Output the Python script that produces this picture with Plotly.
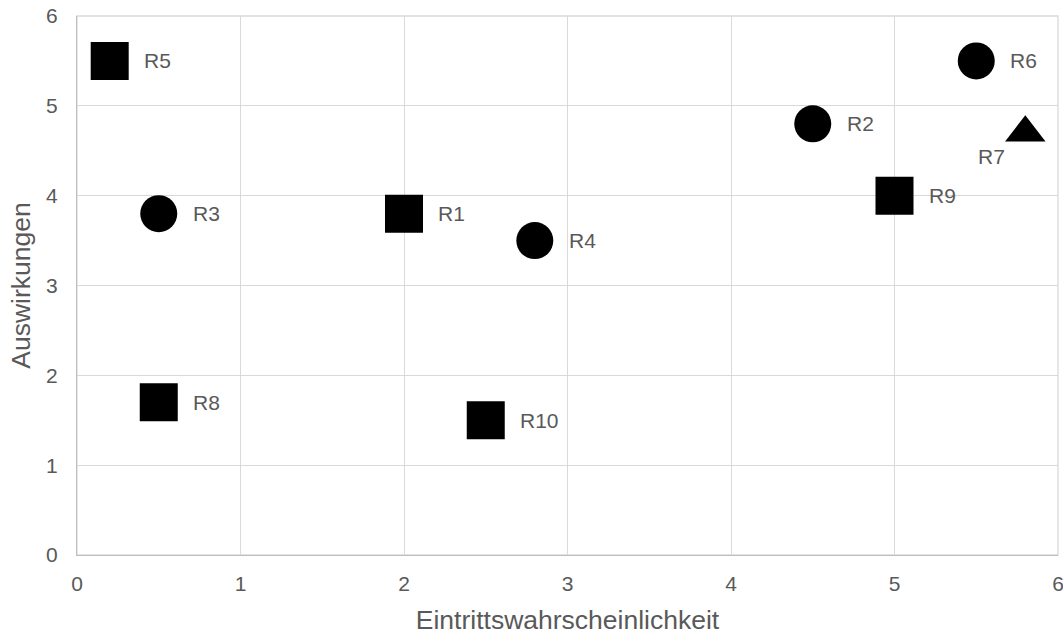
import plotly.graph_objects as go

labels = ["R1", "R2", "R3", "R4", "R5", "R6", "R7", "R8", "R9", "R10"]
likelihood = [2.0, 4.5, 0.5, 2.8, 0.2, 5.5, 5.8, 0.5, 5.0, 2.5]
impact = [3.8, 4.8, 3.8, 3.5, 5.5, 5.5, 4.7, 1.7, 4.0, 1.5]
symbols = ["square", "circle", "circle", "circle", "square", "circle",
           "triangle-up", "square", "square", "square"]
label_side = ["right", "right", "right", "right", "right", "right",
              "bottomleft", "right", "right", "right"]
x_ticks = [0, 1, 2, 3, 4, 5, 6]
y_ticks = [0, 1, 2, 3, 4, 5, 6]

sizes = {"square": 38, "circle": 37, "triangle-up": 35}
FONT = "Liberation Sans, Arial, sans-serif"
TXT = "#595959"
GRID = "#d9d9d9"

fig = go.Figure()
fig.add_trace(go.Scatter(
    x=likelihood, y=impact, mode="markers",
    marker=dict(symbol=symbols, size=[sizes[s] for s in symbols],
                color="black", opacity=1, line=dict(width=0)),
    hoverinfo="skip", showlegend=False, cliponaxis=False,
))

for lab, xv, yv, side in zip(labels, likelihood, impact, label_side):
    if side == "right":
        fig.add_annotation(x=xv, y=yv, text=lab, showarrow=False,
                           xanchor="left", yanchor="middle", xshift=32,
                           font=dict(family=FONT, size=21, color=TXT))
    else:
        fig.add_annotation(x=xv, y=yv, text=lab, showarrow=False,
                           xanchor="right", yanchor="middle", xshift=-18, yshift=-24,
                           font=dict(family=FONT, size=21, color=TXT))

axis_common = dict(showgrid=True, gridcolor=GRID, gridwidth=1.3,
                   zeroline=False, showline=True, linecolor="#bfbfbf",
                   linewidth=1.3, ticks="", automargin=False,
                   ticklabeloverflow="allow",
                   tickfont=dict(family=FONT, size=21, color=TXT))

fig.update_xaxes(range=[0, 6], tickvals=x_ticks, ticktext=[str(v) for v in x_ticks],
                 ticklabelstandoff=10,
                 title=dict(text="Eintrittswahrscheinlichkeit",
                            font=dict(family=FONT, size=26.5, color=TXT), standoff=17),
                 **axis_common)
fig.update_yaxes(range=[0, 6], tickvals=y_ticks, ticktext=[str(v) for v in y_ticks],
                 ticklabelstandoff=14,
                 title=dict(text="Auswirkungen",
                            font=dict(family=FONT, size=26.5, color=TXT), standoff=7),
                 **axis_common)

fig.add_shape(type="rect", xref="paper", yref="paper", x0=0, y0=0, x1=1, y1=1,
              line=dict(color=GRID, width=1.3), layer="below")

fig.update_layout(
    width=1063, height=635,
    margin=dict(l=77, r=5, t=16, b=80),
    paper_bgcolor="white", plot_bgcolor="white",
    font=dict(family=FONT, color=TXT),
)

fig.write_html("out.html",
               config={"displayModeBar": False},
               post_script="document.body.style.margin='0';document.body.style.overflow='hidden';")
